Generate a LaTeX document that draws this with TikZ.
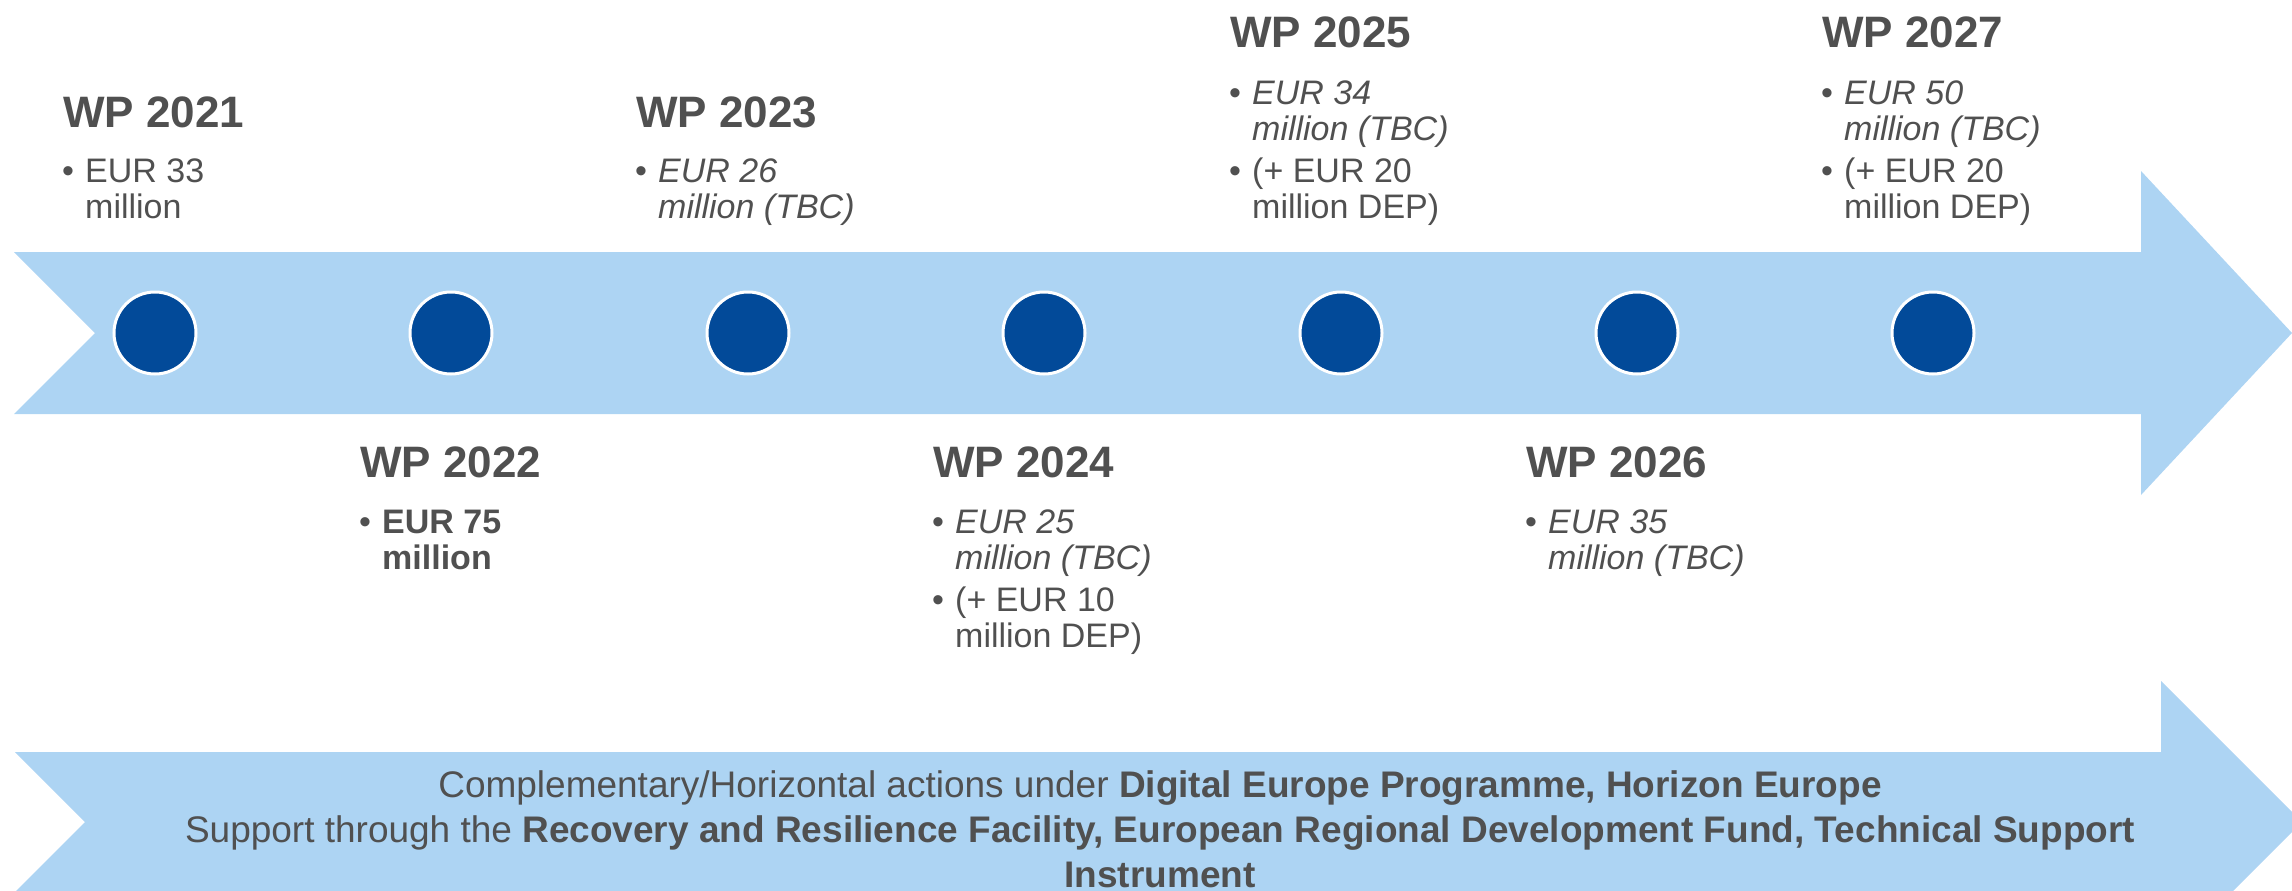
\documentclass[tikz,border=0pt]{standalone}
\usepackage{fontspec}
\setmainfont{Liberation Sans}

\definecolor{txt}{HTML}{505050}
\definecolor{band}{HTML}{ADD4F3}
\definecolor{dot}{HTML}{024A99}

\tikzset{
  wphead/.style={anchor=base west, inner sep=0pt, text=txt,
    font=\fontsize{44}{48}\selectfont\bfseries},
  itemtext/.style={anchor=base west, inner sep=0pt, text=txt,
    font=\fontsize{34}{36}\selectfont},
  bulletmark/.style={itemtext},
  milestone/.style={circle, fill=dot, draw=white, line width=3pt,
    minimum size=82pt, inner sep=0pt},
  foot/.style={anchor=base, inner sep=0pt, text=txt,
    font=\fontsize{37}{44}\selectfont},
}

\begin{document}
\begin{tikzpicture}[x=1pt, y=-1pt]
  \useasboundingbox (0,0) rectangle (2292,891);
  \clip (0,0) rectangle (2292,891);

  % timeline arrow
  \fill[band] (14,252) -- (2141,252) -- (2141,171) -- (2292,333)
    -- (2141,495) -- (2141,414) -- (14,414) -- (95,333) -- cycle;
  % complementary actions arrow
  \fill[band] (15,752) -- (2161,752) -- (2161,681) -- (2302,822)
    -- (2161,963) -- (2161,892) -- (15,892) -- (85,822) -- cycle;

  % milestones
  \foreach \i/\x in {1/155,2/451,3/748,4/1044,5/1341,6/1637,7/1933}
    \node[milestone] (m\i) at (\x,333) {};

  % WP 2021
  \begin{scope}[shift={(63,127)}]
    \node[wphead] (h21) at (0,0) {WP 2021};
    \node[bulletmark] (b21a) at (-1,55) {•};
    \node[itemtext] (t21a) at (22,55) {EUR 33};
    \node[itemtext] (t21b) at (22,91) {million};
  \end{scope}

  % WP 2022
  \begin{scope}[shift={(360,477)}]
    \node[wphead] (h22) at (0,0) {WP 2022};
    \node[bulletmark] (b22a) at (-1,56) {•};
    \node[itemtext, font=\fontsize{34}{36}\selectfont\bfseries] (t22a) at (22,56) {EUR 75};
    \node[itemtext, font=\fontsize{34}{36}\selectfont\bfseries] (t22b) at (22,92) {million};
  \end{scope}

  % WP 2023
  \begin{scope}[shift={(636,127)}]
    \node[wphead] (h23) at (0,0) {WP 2023};
    \node[bulletmark] (b23a) at (-1,55) {•};
    \node[itemtext, font=\fontsize{34}{36}\selectfont\itshape] (t23a) at (22,55) {EUR 26};
    \node[itemtext, font=\fontsize{34}{36}\selectfont\itshape] (t23b) at (22,91) {million (TBC)};
  \end{scope}

  % WP 2024
  \begin{scope}[shift={(933,477)}]
    \node[wphead] (h24) at (0,0) {WP 2024};
    \node[bulletmark] (b24a) at (-1,56) {•};
    \node[itemtext, font=\fontsize{34}{36}\selectfont\itshape] (t24a) at (22,56) {EUR 25};
    \node[itemtext, font=\fontsize{34}{36}\selectfont\itshape] (t24b) at (22,92) {million (TBC)};
    \node[bulletmark] (b24b) at (-1,134) {•};
    \node[itemtext] (t24c) at (22,134) {(+ EUR 10};
    \node[itemtext] (t24d) at (22,170) {million DEP)};
  \end{scope}

  % WP 2025
  \begin{scope}[shift={(1230,48)}]
    \node[wphead] (h25) at (0,0) {WP 2025};
    \node[bulletmark] (b25a) at (-1,56) {•};
    \node[itemtext, font=\fontsize{34}{36}\selectfont\itshape] (t25a) at (22,56) {EUR 34};
    \node[itemtext, font=\fontsize{34}{36}\selectfont\itshape] (t25b) at (22,92) {million (TBC)};
    \node[bulletmark] (b25b) at (-1,134) {•};
    \node[itemtext] (t25c) at (22,134) {(+ EUR 20};
    \node[itemtext] (t25d) at (22,170) {million DEP)};
  \end{scope}

  % WP 2026
  \begin{scope}[shift={(1526,477)}]
    \node[wphead] (h26) at (0,0) {WP 2026};
    \node[bulletmark] (b26a) at (-1,56) {•};
    \node[itemtext, font=\fontsize{34}{36}\selectfont\itshape] (t26a) at (22,56) {EUR 35};
    \node[itemtext, font=\fontsize{34}{36}\selectfont\itshape] (t26b) at (22,92) {million (TBC)};
  \end{scope}

  % WP 2027
  \begin{scope}[shift={(1822,48)}]
    \node[wphead] (h27) at (0,0) {WP 2027};
    \node[bulletmark] (b27a) at (-1,56) {•};
    \node[itemtext, font=\fontsize{34}{36}\selectfont\itshape] (t27a) at (22,56) {EUR 50};
    \node[itemtext, font=\fontsize{34}{36}\selectfont\itshape] (t27b) at (22,92) {million (TBC)};
    \node[bulletmark] (b27b) at (-1,134) {•};
    \node[itemtext] (t27c) at (22,134) {(+ EUR 20};
    \node[itemtext] (t27d) at (22,170) {million DEP)};
  \end{scope}

  % complementary funding
  \node[foot] (f1) at (1160,797) {Complementary/Horizontal actions under \textbf{Digital Europe Programme, Horizon Europe}};
  \node[foot] (f2) at (1160,842) {Support through the \textbf{Recovery and Resilience Facility, European Regional Development Fund, Technical Support}};
  \node[foot] (f3) at (1160,887) {\textbf{Instrument}};
\end{tikzpicture}
\end{document}
